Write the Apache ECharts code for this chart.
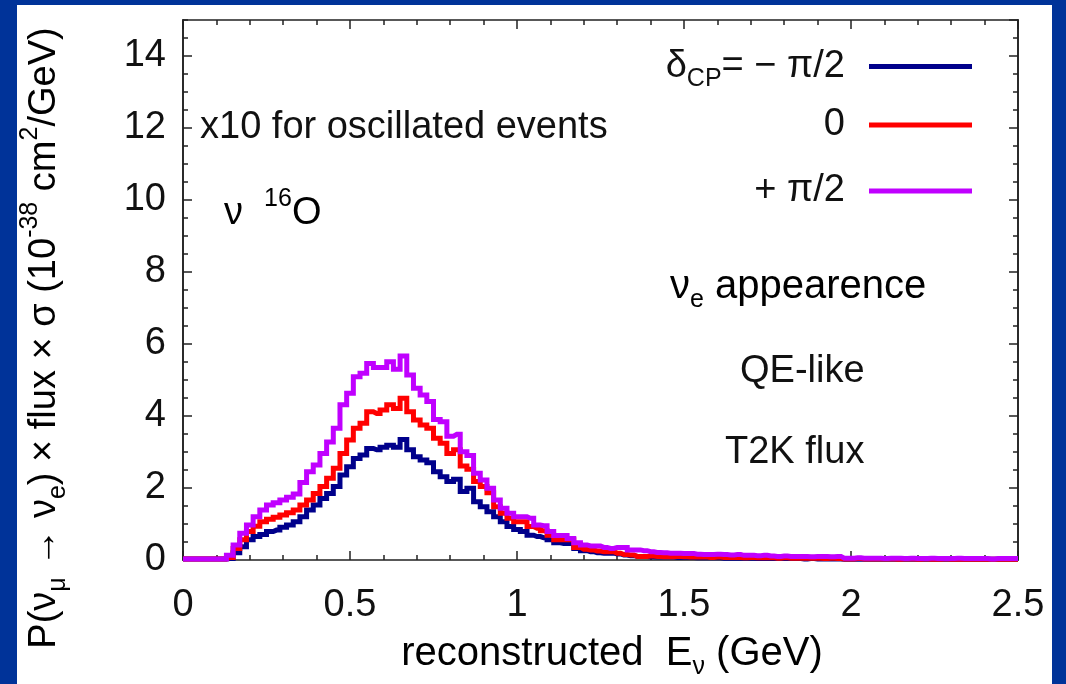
<!DOCTYPE html>
<html><head><meta charset="utf-8">
<script src="https://cdn.jsdelivr.net/npm/echarts@6/dist/echarts.min.js"></script>
<style>html,body{margin:0;padding:0;background:#003399;} #c{width:1066px;height:684px;}</style>
</head><body><div id="c"></div>
<script>
// bin centres (GeV), step 0.02 from 0 to 2.5
const binStep = 0.02;
const xTickLabels = ['0', '0.5', '1', '1.5', '2', '2.5'];
const yTickLabels = ['0', '2', '4', '6', '8', '10', '12', '14'];
const seriesNames = ['dminus', 'dzero', 'dplus'];
const legendLabels = ['{m|δ}{sub|CP}{m|= − π/2}', '{m|0}', '{m|+ π/2}'];

// delta_CP = -pi/2
const deltaMinusHalfPi = [
 0.03,0.03,0.03,0.03,0.03,0.03,0.03,
 0.04,
 0.20,0.37,0.56,0.65,0.71,0.79,0.83,0.91,0.97,1.06,
 1.20,1.39,1.53,1.71,1.85,2.04,2.36,2.59,2.82,2.92,
 3.10,3.06,3.13,3.19,3.13,3.35,3.06,2.87,2.78,2.70,
 2.45,2.31,2.18,2.24,1.90,1.99,1.62,1.48,1.34,1.20,
 1.06,0.93,0.85,0.79,0.69,0.65,0.62,0.56,0.48,0.46,
 0.46,0.32,0.26,0.23,0.20,0.19,0.19,0.17,0.14,0.12,
 0.10,0.10,0.09,0.08,0.08,0.08,0.07,0.07,0.07,0.06,
 0.06,0.06,0.06,0.05,0.05,0.05,0.05,0.05,0.04,0.04,
 0.04,0.04,0.04,0.04,0.04,0.03,0.04,0.03,0.03,0.03,
 0.03,0.02,0.02,0.02,0.02,0.02,0.02,0.02,0.02,0.02,
 0.02,0.02,0.02,0.02,0.02,0.02,0.02,0.02,0.02,0.02,
 0.02,0.02,0.02,0.02,0.02,0.02,0.02,0.02
];
// delta_CP = 0
const deltaZero = [
 0.03,0.03,0.03,0.03,0.03,0.03,0.03,
 0.07,
 0.32,0.56,0.79,0.94,1.06,1.13,1.19,1.25,1.31,1.39,
 1.53,1.67,1.85,2.04,2.27,2.55,2.96,3.33,3.66,3.80,
 4.12,4.07,4.17,4.31,4.21,4.49,4.12,3.89,3.75,3.66,
 3.38,3.24,2.96,3.06,2.61,2.52,2.18,2.04,1.87,1.48,
 1.30,1.16,1.06,1.06,0.93,0.88,0.81,0.69,0.56,0.56,
 0.56,0.35,0.30,0.28,0.25,0.23,0.23,0.19,0.15,0.14,
 0.10,0.10,0.11,0.10,0.09,0.09,0.10,0.09,0.08,0.08,
 0.08,0.07,0.08,0.07,0.07,0.07,0.06,0.07,0.06,0.06,
 0.06,0.05,0.06,0.05,0.05,0.05,0.05,0.05,0.04,0.05,
 0.04,0.03,0.03,0.04,0.03,0.03,0.03,0.03,0.03,0.02,
 0.03,0.03,0.02,0.03,0.02,0.02,0.03,0.02,0.02,0.02,
 0.02,0.02,0.02,0.02,0.02,0.02,0.02,0.02
];
// delta_CP = +pi/2
const deltaPlusHalfPi = [
 0.03,0.03,0.03,0.03,0.03,0.03,0.03,
 0.13,
 0.42,0.74,0.97,1.20,1.39,1.53,1.59,1.67,1.74,1.83,
 2.15,2.45,2.64,2.96,3.28,3.66,4.31,4.63,5.09,5.19,
 5.46,5.35,5.35,5.51,5.30,5.67,5.14,4.77,4.58,4.40,
 3.90,3.84,3.44,3.49,3.01,2.90,2.41,2.22,1.99,1.67,
 1.44,1.30,1.20,1.20,1.16,0.97,0.95,0.79,0.68,0.68,
 0.60,0.48,0.42,0.39,0.39,0.35,0.32,0.35,0.35,0.28,
 0.28,0.26,0.23,0.21,0.20,0.19,0.19,0.18,0.18,0.16,
 0.15,0.15,0.16,0.15,0.14,0.15,0.13,0.13,0.12,0.13,
 0.11,0.10,0.11,0.10,0.10,0.10,0.09,0.10,0.10,0.09,
 0.10,0.05,0.05,0.06,0.05,0.05,0.05,0.04,0.05,0.05,
 0.04,0.05,0.04,0.04,0.05,0.04,0.04,0.04,0.05,0.04,
 0.04,0.04,0.04,0.03,0.04,0.04,0.04,0.04
];

const F = '"Liberation Sans", Arial, Helvetica, sans-serif';
const TXT = '#111';
const AX = '#222';
const colors = ['#00008b', '#ff0000', '#c000ff'];
const richBase = {
  m: {fontSize: 38, fontFamily: F, color: TXT, lineHeight: 44},
  b: {fontSize: 40, fontFamily: F, color: TXT, lineHeight: 44},
  sub: {fontSize: 25, fontFamily: F, color: TXT, lineHeight: 18, padding: [26, 0, 0, 0]},
  sup: {fontSize: 25, fontFamily: F, color: TXT, lineHeight: 18, padding: [0, 0, 30, 0]}
};
function pairs(vals) { return vals.map((v, k) => [+(k * binStep).toFixed(2), v]); }

const chart = echarts.init(document.getElementById('c'), null, {renderer: 'canvas'});
const tickStyle = {color: AX, width: 1.5};
function xAx(pos, showLabel) {
  return {type: 'value', min: 0, max: 2.5, interval: 0.5, position: pos,
    axisLine: {show: true, onZero: false, lineStyle: {color: AX, width: 1.6}},
    axisTick: {show: true, inside: true, length: 9, lineStyle: tickStyle},
    minorTick: {show: true, splitNumber: 5, length: 5, lineStyle: tickStyle},
    splitLine: {show: false}, minorSplitLine: {show: false},
    axisLabel: {show: showLabel, fontSize: 38, fontFamily: F, color: TXT, margin: 27,
      formatter: (v) => xTickLabels[Math.round(v / 0.5)] ?? ''}};
}
function yAx(pos, interval, len, showLabel) {
  return {type: 'value', min: 0, max: 15, interval: interval, position: pos,
    axisLine: {show: true, onZero: false, lineStyle: {color: AX, width: 1.6}},
    axisTick: {show: true, inside: true, length: len, lineStyle: tickStyle},
    splitLine: {show: false},
    axisLabel: {show: showLabel, showMaxLabel: false, fontSize: 38, fontFamily: F, color: TXT, margin: 17,
      formatter: (v) => yTickLabels[Math.round(v / 2)] ?? ''}};
}
const legendTops = [41, 106, 172];
const option = {
  animation: false,
  backgroundColor: '#003399',
  grid: {left: 183, right: 48, top: 20, bottom: 124, containLabel: false},
  xAxis: [xAx('bottom', true), xAx('top', false)],
  yAxis: [yAx('left', 2, 9, true), yAx('left', 0.5, 5, false), yAx('right', 2, 9, false), yAx('right', 0.5, 5, false)],
  legend: seriesNames.map((n, i) => ({
    data: [n], right: 94, top: legendTops[i], orient: 'horizontal', align: 'right',
    icon: 'rect', itemWidth: 103, itemHeight: 5, padding: 0, itemGap: 0, selectedMode: false,
    formatter: () => legendLabels[i],
    textStyle: {fontSize: 38, fontFamily: F, color: TXT, padding: [0, 19, 0, 0], rich: richBase}
  })),
  series: [deltaMinusHalfPi, deltaZero, deltaPlusHalfPi].map((vals, i) => ({
    name: seriesNames[i], type: 'line', step: 'middle', data: pairs(vals),
    xAxisIndex: 0, yAxisIndex: 0, showSymbol: false, symbol: 'none', clip: true,
    lineStyle: {color: colors[i], width: 5, join: 'miter'}, itemStyle: {color: colors[i]},
    z: 2 + i
  })),
  graphic: [
    {type: 'rect', shape: {x: 17, y: 5, width: 1035, height: 679}, style: {fill: '#ffffff'}, z: -10, silent: true},
    {type: 'text', x: 200, y: 128, z: 50, style: {text: 'x10 for oscillated events', fontSize: 38, fontFamily: F, fill: TXT, align: 'left', verticalAlign: 'middle'}},
    {type: 'text', x: 224, y: 214, z: 50, style: {text: '{m|ν  }{sup|16}{m|O}', rich: richBase, align: 'left', verticalAlign: 'middle'}},
    {type: 'text', x: 670, y: 287, z: 50, style: {text: '{b|ν}{sub|e}{b| appearence}', rich: richBase, align: 'left', verticalAlign: 'middle'}},
    {type: 'text', x: 740, y: 372, z: 50, style: {text: 'QE-like', fontSize: 38, fontFamily: F, fill: TXT, align: 'left', verticalAlign: 'middle'}},
    {type: 'text', x: 725, y: 453, z: 50, style: {text: 'T2K flux', fontSize: 38, fontFamily: F, fill: TXT, align: 'left', verticalAlign: 'middle'}},
    {type: 'text', x: 612, y: 654, z: 50, style: {text: '{b|reconstructed  E}{sub|ν}{b| (GeV)}', rich: richBase, align: 'center', verticalAlign: 'middle'}},
    {type: 'text', x: 45, y: 338, rotation: Math.PI / 2, z: 50, style: {text: '{m|P(ν}{sub|μ}{m| → ν}{sub|e}{m|) × flux × σ (10}{sup|-38}{m| cm}{sup|2}{m|/GeV)}', rich: richBase, align: 'center', verticalAlign: 'middle'}}
  ]
};
chart.setOption(option);
</script>
</body></html>
